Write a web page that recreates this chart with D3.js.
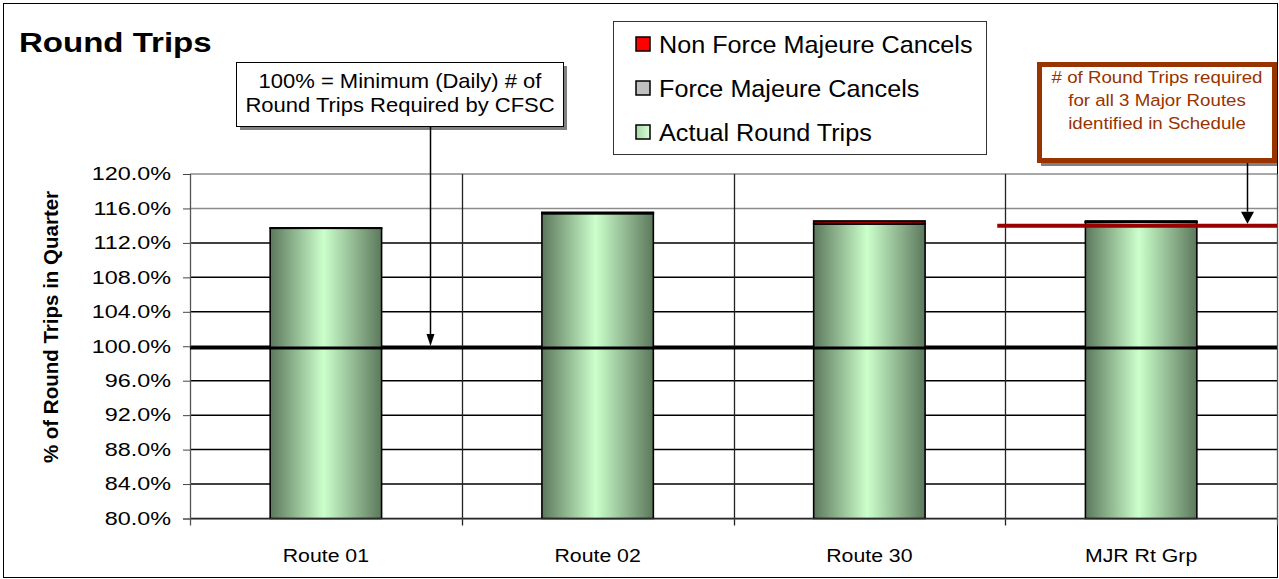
<!DOCTYPE html>
<html>
<head>
<meta charset="utf-8">
<title>Round Trips</title>
<script src="https://cdn.jsdelivr.net/npm/d3@7"></script>
<style>
  body { margin: 0; background: #fff; }
  svg { display: block; font-family: Arial, "Liberation Sans", sans-serif; }
</style>
</head>
<body>
<script>
// data
var routes = ["Route 01", "Route 02", "Route 30", "MJR Rt Grp"];
var actualTrips = [113.7, 115.4, 114.2, 114.4];
var forceMajeure = [0.05, 0.1, 0.0, 0.05];
var nonForceMajeure = [0.0, 0.05, 0.35, 0.1];
var seriesNames = ["Non Force Majeure Cancels", "Force Majeure Cancels", "Actual Round Trips"];
var yTicks = [80, 84, 88, 92, 96, 100, 104, 108, 112, 116, 120];
var minimumLine = 99.8;
var majorRouteLine = 114.0;

// define width and height of the svg
const w = 1279;
const h = 579;
const plotLeft = 190;
const plotRight = 1277;
const plotTop = 174;
const plotBottom = 518.5;

var svg = d3.select("body")
            .append("svg")
            .attr("width", w)
            .attr("height", h);

var defs = svg.append("defs");

// horizontal gradients like the excel fills
function gradient(id, edge, mid) {
  var g = defs.append("linearGradient").attr("id", id)
              .attr("x1", "0%").attr("x2", "100%").attr("y1", "0%").attr("y2", "0%");
  g.append("stop").attr("offset", "0%").attr("stop-color", edge);
  g.append("stop").attr("offset", "48%").attr("stop-color", mid);
  g.append("stop").attr("offset", "100%").attr("stop-color", edge);
}
gradient("green", "#5c785c", "#ccffcc");
gradient("grey", "#6a6a6a", "#d0d0d0");
gradient("red", "#6e0000", "#b00000");

// put a text at x,y and stretch it sideways (the picture's text runs wide)
function stretched(sel, x, y, sx) {
  return sel.attr("transform", "translate(" + x + "," + y + ") scale(" + sx + ",1)");
}

// chart border
svg.append("rect")
   .attr("x", 3.5).attr("y", 3.5)
   .attr("width", 1274).attr("height", 574)
   .attr("fill", "none").attr("stroke", "#000");

// create scales
var xScale = d3.scaleBand()
               .domain(routes)
               .range([plotLeft, plotRight])
               .paddingInner(0.59)
               .paddingOuter(0.295);
var yScale = d3.scaleLinear()
               .domain([80, 120])
               .range([plotBottom, plotTop]);

// horizontal gridlines
svg.selectAll(".hgrid")
   .data(yTicks)
   .enter()
   .append("line")
   .attr("class", "hgrid")
   .attr("x1", plotLeft).attr("x2", plotRight)
   .attr("y1", function(d) { return yScale(d); })
   .attr("y2", function(d) { return yScale(d); })
   .attr("stroke-width", 1.5)
   .attr("stroke", function(d) { return d >= 116 ? "#8c8c8c" : "#000"; });

// vertical gridlines between the routes
var step = xScale.step();
var bounds = d3.range(routes.length + 1).map(function(i) {
  return xScale(routes[0]) - xScale.paddingOuter() * step + i * step;
});
svg.selectAll(".vgrid")
   .data(bounds)
   .enter()
   .append("line")
   .attr("class", "vgrid")
   .attr("x1", function(d) { return Math.round(d) + 0.5; })
   .attr("x2", function(d) { return Math.round(d) + 0.5; })
   .attr("y1", plotTop).attr("y2", plotBottom + 7)
   .attr("stroke-width", 1.3)
   .attr("stroke", function(d, i) { return i === 0 || i === routes.length ? "#555" : "#222"; });

// stack the three series
var rows = routes.map(function(r, i) {
  return {route: r, actual: actualTrips[i], fm: forceMajeure[i], nfm: nonForceMajeure[i]};
});
var stack = d3.stack().keys(["actual", "fm", "nfm"]);
var layers = stack(rows);
var fills = {actual: "url(#green)", fm: "url(#grey)", nfm: "url(#red)"};

// bars start at the bottom of the axis (80%)
svg.selectAll(".layer")
   .data(layers)
   .enter()
   .append("g")
   .attr("class", "layer")
   .attr("fill", function(d) { return fills[d.key]; })
   .selectAll("rect")
   .data(function(d) { return d.filter(function(p) { return p[1] - p[0] > 0; }); })
   .enter()
   .append("rect")
   .attr("x", function(d) { return xScale(d.data.route); })
   .attr("width", xScale.bandwidth())
   .attr("y", function(d) { return yScale(d[1]); })
   .attr("height", function(d) {
     var lo = Math.max(d[0], 80);
     return yScale(lo) - yScale(d[1]);
   })
   .attr("stroke", "#000")
   .attr("stroke-width", 1.6);

// y axis
var yAxis = svg.append("g")
   .attr("transform", "translate(" + plotLeft + ",0)")
   .call(d3.axisLeft(yScale).tickValues(yTicks).tickSize(7).tickPadding(0)
           .tickFormat(function(d) { return d.toFixed(1) + "%"; }));
yAxis.select(".domain").attr("stroke", "#555");
yAxis.selectAll(".tick line").attr("stroke", "#444");
yAxis.selectAll(".tick text")
     .attr("font-size", 18)
     .attr("fill", "#000")
     .attr("x", -14.6)
     .attr("transform", "scale(1.3,1)");

// x axis labels
var xAxis = svg.append("g")
   .attr("transform", "translate(0," + plotBottom + ")")
   .call(d3.axisBottom(xScale).tickSize(0).tickPadding(30));
xAxis.select(".domain").attr("stroke", "#555");
xAxis.selectAll(".tick text")
     .attr("font-size", 19)
     .attr("fill", "#000")
     .attr("transform", "scale(1.12,1)");

// minimum line at 100%
svg.append("line")
   .attr("x1", plotLeft).attr("x2", plotRight)
   .attr("y1", yScale(minimumLine)).attr("y2", yScale(minimumLine))
   .attr("stroke", "#000").attr("stroke-width", 3);

// required line for the major route group
svg.append("line")
   .attr("x1", bounds[3] - 8).attr("x2", plotRight)
   .attr("y1", yScale(majorRouteLine)).attr("y2", yScale(majorRouteLine))
   .attr("stroke", "#990000").attr("stroke-width", 4);

// title
stretched(svg.append("text"), 19, 52, 1.18)
   .attr("font-size", 28)
   .attr("font-weight", "bold")
   .text("Round Trips");

// y axis label
svg.append("text")
   .attr("transform", "translate(58,327) rotate(-90)")
   .attr("text-anchor", "middle")
   .attr("font-size", 20.5)
   .attr("font-weight", "bold")
   .text("% of Round Trips in Quarter");

// legend
svg.append("rect")
   .attr("x", 613.5).attr("y", 21.5)
   .attr("width", 373).attr("height", 133)
   .attr("fill", "#fff").attr("stroke", "#333");
var lg = defs.append("linearGradient").attr("id", "legendGreen");
lg.append("stop").attr("offset", "0%").attr("stop-color", "#a8d8a8");
lg.append("stop").attr("offset", "100%").attr("stop-color", "#d8ffd8");
var markers = ["#ff0000", "#c0c0c0", "url(#legendGreen)"];
seriesNames.forEach(function(name, i) {
  var cy = 44 + i * 44;
  svg.append("rect")
     .attr("x", 636).attr("y", cy - 7)
     .attr("width", 14).attr("height", 14)
     .attr("fill", markers[i]).attr("stroke", "#000").attr("stroke-width", 1.5);
  stretched(svg.append("text"), 659, cy + 8.5, 1.05)
     .attr("font-size", 24)
     .text(name);
});

// note box for the 100% line
svg.append("rect")
   .attr("x", 240).attr("y", 66)
   .attr("width", 327).attr("height", 64)
   .attr("fill", "#808080");
svg.append("rect")
   .attr("x", 236.5).attr("y", 62.5)
   .attr("width", 327).attr("height", 64)
   .attr("fill", "#fff").attr("stroke", "#000");
["100% = Minimum (Daily) # of", "Round Trips Required by CFSC"].forEach(function(t, i) {
  stretched(svg.append("text"), 400, 88 + i * 24, 1.1)
     .attr("text-anchor", "middle")
     .attr("font-size", 20)
     .text(t);
});

// note box for the major routes line
svg.append("rect")
   .attr("x", 1041).attr("y", 66)
   .attr("width", 236).attr("height", 100)
   .attr("fill", "#808080");
svg.append("rect")
   .attr("x", 1039.5).attr("y", 64.5)
   .attr("width", 235).attr("height", 96)
   .attr("fill", "#fff").attr("stroke", "#993300").attr("stroke-width", 5);
["# of Round Trips required", "for all 3 Major Routes", "identified in Schedule"].forEach(function(t, i) {
  stretched(svg.append("text"), 1157, 83 + i * 23, 1.1)
     .attr("text-anchor", "middle")
     .attr("font-size", 17)
     .attr("fill", "#993300")
     .text(t);
});

// arrows
function arrow(x, y0, y1, hw, hl) {
  svg.append("line")
     .attr("x1", x).attr("x2", x)
     .attr("y1", y0).attr("y2", y1 - hl)
     .attr("stroke", "#000").attr("stroke-width", 1.5);
  svg.append("path")
     .attr("d", "M" + (x - hw) + "," + (y1 - hl) + "L" + (x + hw) + "," + (y1 - hl) + "L" + x + "," + y1 + "Z")
     .attr("fill", "#000");
}
arrow(430.5, 127, yScale(minimumLine) - 2, 4, 12);
arrow(1247.5, 163, yScale(majorRouteLine) - 2, 6.5, 12);
</script>
</body>
</html>
